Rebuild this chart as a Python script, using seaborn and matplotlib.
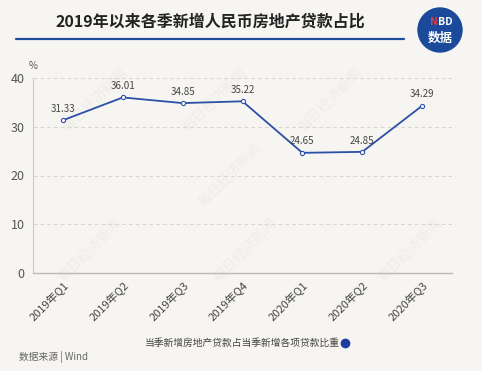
import matplotlib
matplotlib.use("Agg")
import matplotlib.pyplot as plt
import seaborn as sns
import pandas as pd
from matplotlib.patches import Ellipse
from matplotlib.lines import Line2D

# data
quarters = ["2019年Q1", "2019年Q2", "2019年Q3", "2019年Q4", "2020年Q1", "2020年Q2", "2020年Q3"]
share = [31.33, 36.01, 34.85, 35.22, 24.65, 24.85, 34.29]
y_ticks = [0, 10, 20, 30, 40]

title = "2019年以来各季新增人民币房地产贷款占比"
series_name = "当季新增房地产贷款占当季新增各项贷款比重"
source = "数据来源 | Wind"

bg = "#f7f5f2"
blue = "#2b50a6"

sns.set_theme(style="white")
plt.rcParams["font.family"] = ["Noto Sans CJK SC", "DejaVu Sans"]

df = pd.DataFrame({"quarter": quarters, "share": share})

W, H = 482, 371
fig = plt.figure(figsize=(W / 100, H / 100), dpi=100)
fig.patch.set_facecolor(bg)
ax = fig.add_axes([33 / W, 1 - 273 / H, (452 - 33) / W, (273 - 78) / H])
ax.set_facecolor("none")

# faint watermarks, behind everything
for wx, wy in [(95, 100), (215, 100), (330, 100), (90, 250), (245, 250), (410, 250), (230, 175)]:
    fig.text(wx / W, 1 - wy / H, "每日经济新闻", rotation=45, fontsize=10, color="#efece8",
             ha="center", va="center", zorder=-1, family="Noto Sans CJK SC")

sns.lineplot(data=df, x="quarter", y="share", ax=ax, color=blue, linewidth=1.3,
             marker="o", markersize=3, markerfacecolor="white", markeredgecolor=blue,
             markeredgewidth=0.8, sort=False)

for i, v in enumerate(share):
    ax.text(i, v + 1.3, f"{v:.2f}", ha="center", va="bottom", fontsize=7, color="#444444")

ax.set_xlim(-0.5, len(quarters) - 0.5)
ax.set_ylim(0, 40)
ax.set_yticks(y_ticks)
ax.yaxis.grid(True, linestyle=(0, (4, 3)), color="#d9d6d2", linewidth=0.7)
ax.xaxis.grid(False)
ax.set_xlabel("")
ax.set_ylabel("")
ax.tick_params(axis="y", labelsize=9, labelcolor="#555555", length=0, pad=6)
ax.tick_params(axis="x", labelsize=8, labelcolor="#444444", length=0, pad=5)
plt.setp(ax.get_xticklabels(), rotation=45, ha="right", rotation_mode="anchor")

for s in ["top", "right"]:
    ax.spines[s].set_visible(False)
ax.spines["left"].set_color("#cfcbc6")
ax.spines["bottom"].set_color("#bcb8b3")
ax.spines["left"].set_linewidth(0.8)
ax.spines["bottom"].set_linewidth(1.0)

ax.text(-0.5, 41.5, "%", fontsize=7, color="#555555", ha="center", va="bottom")

# title and header rule
fig.text(210 / W, 1 - 22 / H, title, ha="center", va="center", fontsize=11.5,
         fontweight="bold", color="#222222")
fig.add_artist(Line2D([16 / W, 404 / W], [1 - 39 / H] * 2, color="#1f4d9e", linewidth=1.6))

# NBD badge
fig.add_artist(Ellipse((440 / W, 1 - 30 / H), 44 / W, 44 / H, transform=fig.transFigure,
                       color="#1b4a9b", zorder=5))
fig.text(433.5 / W, 1 - 22 / H, "N", ha="center", va="center", fontsize=7.5,
         fontweight="bold", color="#e03a3a", zorder=6)
fig.text(445 / W, 1 - 22 / H, "BD", ha="center", va="center", fontsize=7.5,
         fontweight="bold", color="white", zorder=6)
fig.text(440 / W, 1 - 38 / H, "数据", ha="center", va="center", fontsize=9,
         fontweight="bold", color="white", zorder=6)

# legend
fig.text(340 / W, 1 - 343 / H, series_name, ha="right", va="center", fontsize=7, color="#444444")
fig.add_artist(Line2D([345 / W], [1 - 343 / H], marker="o", markersize=6,
                      color="#1a3fa0", linestyle="none"))

fig.text(19 / W, 1 - 357 / H, source, ha="left", va="center", fontsize=7, color="#666666")

fig.savefig("out.png", dpi=100, facecolor=bg)
